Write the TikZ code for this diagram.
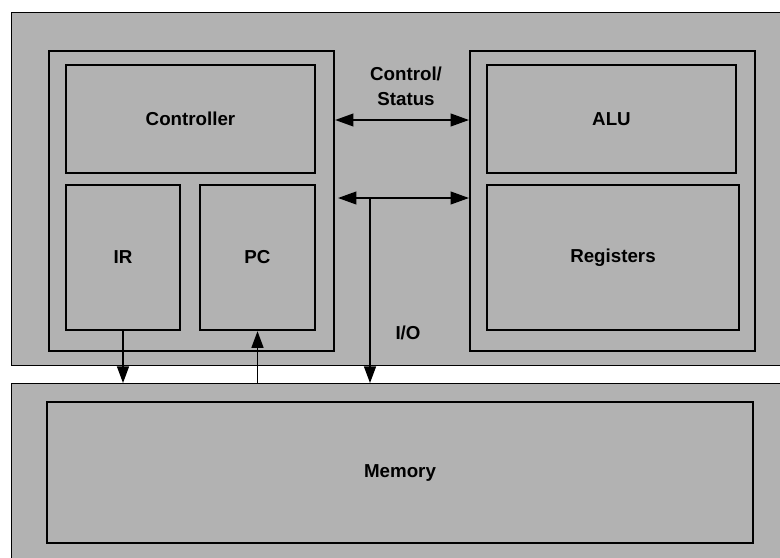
\documentclass[tikz,border=0pt]{standalone}
\usepackage{fontspec}
\setmainfont{Liberation Sans}
\usetikzlibrary{arrows.meta}

\definecolor{scangray}{gray}{0.7}

\tikzset{
  panel/.style={draw, line width=1.2pt, fill=scangray, anchor=north west, inner sep=0pt},
  holder/.style={draw, line width=1.8pt, fill=scangray, anchor=north west, inner sep=0pt},
  unit/.style={draw, line width=2pt, fill=scangray, inner sep=0pt, font=\fontsize{16}{21}\selectfont\bfseries},
  bus/.style={line width=1.6pt, {Triangle[length=5.5mm,width=3.8mm]}-{Triangle[length=5.5mm,width=3.8mm]}},
  link/.style={line width=1.3pt, -{Triangle[length=5mm,width=3.6mm]}},
  tag/.style={font=\fontsize{16}{21}\selectfont\bfseries, align=center}
}

\begin{document}
\begin{tikzpicture}[x=0.03cm, y=-0.03cm]

\clip (0,0) rectangle (780,557);

% Processor
\node[panel, minimum width=790*0.03cm, minimum height=353*0.03cm] (cpu) at (11,12) {};

\node[holder, minimum width=285*0.03cm, minimum height=300*0.03cm] (ctrlside) at (48,50) {};
\node[holder, minimum width=285*0.03cm, minimum height=300*0.03cm] (dataside) at (469,50) {};

\node[unit, minimum width=249*0.03cm, minimum height=108*0.03cm] (controller) at (190.5,119) {Controller};
\node[unit, minimum width=114*0.03cm, minimum height=145*0.03cm] (ir) at (123,257.5) {IR};
\node[unit, minimum width=115*0.03cm, minimum height=145*0.03cm] (pc) at (257.5,257.5) {PC};

\node[unit, minimum width=249*0.03cm, minimum height=108*0.03cm] (alu) at (611.5,119) {ALU};
\node[unit, minimum width=252*0.03cm, minimum height=145*0.03cm] (registers) at (613,257.5) {Registers};

% Memory
\node[panel, minimum width=790*0.03cm, minimum height=200*0.03cm] (mempanel) at (11,383) {};
\node[unit, minimum width=706*0.03cm, minimum height=141*0.03cm] (memory) at (400,472.5) {Memory};

% Buses
\coordinate (cs) at (0,120);
\draw[bus] (ctrlside.east |- cs) -- (dataside.west |- cs);
\node[tag] (cslabel) at (406,86) {Control/\\Status};

\coordinate (io) at (370,198);
\draw[bus] (338,198) -- (dataside.west |- io);
\draw[link] (io) -- (io |- mempanel.north);
\node[tag] (iolabel) at (408,333) {I/O};

\draw[link] (ir.south) -- (ir.south |- mempanel.north);
\draw[link] (pc.south |- mempanel.north) -- (pc.south);

\end{tikzpicture}
\end{document}
